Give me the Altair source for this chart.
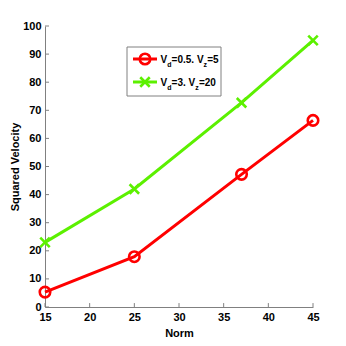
import altair as alt
import pandas as pd

norm = [15, 25, 37, 45]
vel_a = [5.3, 17.9, 47.2, 66.4]    # V_d=0.5, V_z=5
vel_b = [23.0, 42.0, 72.7, 94.9]   # V_d=3, V_z=20
series_names = ["Vd=0.5. Vz=5", "Vd=3. Vz=20"]
colors = ["#FF0000", "#5CF000"]
x_ticks = [15, 20, 25, 30, 35, 40, 45]
y_ticks = [0, 10, 20, 30, 40, 50, 60, 70, 80, 90, 100]

FONT = "Liberation Sans, Arial"

df = pd.DataFrame({
    "Norm": norm * 2,
    "Vel": vel_a + vel_b,
    "Series": [series_names[0]] * 4 + [series_names[1]] * 4,
})
dfa = df[df.Series == series_names[0]]
dfb = df[df.Series == series_names[1]]

xs = alt.Scale(domain=[15, 45], nice=False, zero=False)
ys = alt.Scale(domain=[0, 100], nice=False)
cs = alt.Scale(domain=series_names, range=colors)

xax = alt.Axis(values=x_ticks, ticks=False, grid=False, domainColor="#808080",
               labelFont=FONT, labelFontSize=11, labelFontWeight="bold", labelColor="black",
               labelPadding=4, labelOverlap=False, title="Norm", titleFont=FONT, titleFontSize=11,
               titleFontWeight="bold", titlePadding=5, titleColor="black", labelFlush=False)
yax = alt.Axis(values=y_ticks, ticks=False, grid=False, domainColor="#808080",
               labelFont=FONT, labelFontSize=11, labelFontWeight="bold", labelColor="black",
               labelPadding=4, labelOverlap=False, title="Squared Velocity", titleFont=FONT,
               titleFontSize=11, titleFontWeight="bold", titlePadding=2, titleColor="black",
               labelFlush=False)

lines = alt.Chart(df).mark_line(strokeWidth=3).encode(
    x=alt.X("Norm:Q", scale=xs, axis=xax, title="Norm"),
    y=alt.Y("Vel:Q", scale=ys, axis=yax, title="Squared Velocity"),
    color=alt.Color("Series:N", scale=cs, legend=None),
)

pts_a = alt.Chart(dfa).mark_point(shape="circle", filled=False, strokeWidth=2.6, size=110,
                                  color=colors[0], opacity=1).encode(
    x=alt.X("Norm:Q", scale=xs, axis=xax, title="Norm"),
    y=alt.Y("Vel:Q", scale=ys, axis=yax, title="Squared Velocity"))
XSHAPE = "M-1,-1L1,1M1,-1L-1,1"
pts_b = alt.Chart(dfb).mark_point(shape=XSHAPE, filled=False, strokeWidth=2.6, size=90,
                                  color=colors[1], opacity=1).encode(
    x=alt.X("Norm:Q", scale=xs, axis=xax, title="Norm"),
    y=alt.Y("Vel:Q", scale=ys, axis=yax, title="Squared Velocity"))

# inward ticks
tdx = pd.DataFrame({"t": x_ticks})
tdy = pd.DataFrame({"t": y_ticks})
xt = alt.Chart(tdx).mark_rule(color="#808080", strokeWidth=1).encode(
    x=alt.X("t:Q", scale=xs, axis=xax, title="Norm"),
    y=alt.datum(0, scale=ys, axis=yax, title="Squared Velocity"), y2=alt.datum(1.4))
yt = alt.Chart(tdy).mark_rule(color="#808080", strokeWidth=1).encode(
    y=alt.Y("t:Q", scale=ys, axis=yax, title="Squared Velocity"),
    x=alt.datum(15, scale=xs, axis=xax, title="Norm"), x2=alt.datum(15.45))

# legend (offsets relative to plot origin at (45,26))
ox, oy = 45, 26
box = alt.Chart(pd.DataFrame({"a": [0]})).mark_rect(fill="white", stroke="#808080", strokeWidth=1).encode(
    x=alt.value(127 - ox), x2=alt.value(221 - ox), y=alt.value(47 - oy), y2=alt.value(96 - oy))
leg = [box]
rows = [
    (59, colors[0], "circle", 110, [("V", 160.5, 0), ("d", 167.2, 1), ("=0.5. V", 171.6, 0), ("z", 203.6, 1), ("=5", 207.2, 0)]),
    (82, colors[1], XSHAPE, 90, [("V", 160.5, 0), ("d", 167.2, 1), ("=3. V", 171.6, 0), ("z", 195.3, 1), ("=20", 198.9, 0)]),
]
for yy, col, shp, sz, segs in rows:
    leg.append(alt.Chart(pd.DataFrame({"a": [0]})).mark_rule(color=col, strokeWidth=3).encode(
        x=alt.value(133 - ox), x2=alt.value(157 - ox), y=alt.value(yy - oy)))
    leg.append(alt.Chart(pd.DataFrame({"a": [0]})).mark_point(shape=shp, filled=False, strokeWidth=2.6,
                                                             size=sz, color=col, opacity=1).encode(
        x=alt.value(145 - ox), y=alt.value(yy - oy)))
    for txt, tx, sub in segs:
        leg.append(alt.Chart(pd.DataFrame({"a": [0]})).mark_text(
            align="left", baseline="alphabetic", font=FONT, fontWeight="bold",
            fontSize=7 if sub else 10, color="black").encode(
            x=alt.value(tx - ox), y=alt.value(yy - oy + (7.5 if sub else 3.8)), text=alt.value(txt)))

chart = alt.layer(lines, xt, yt, pts_a, pts_b, *leg).properties(
    width=268, height=281,
    autosize=alt.AutoSizeParams(type="none"),
    padding={"left": 37, "top": 18, "right": 25, "bottom": 31},
).configure_view(stroke=None)

chart.save("out.html", embed_options={"renderer": "svg", "actions": False})
